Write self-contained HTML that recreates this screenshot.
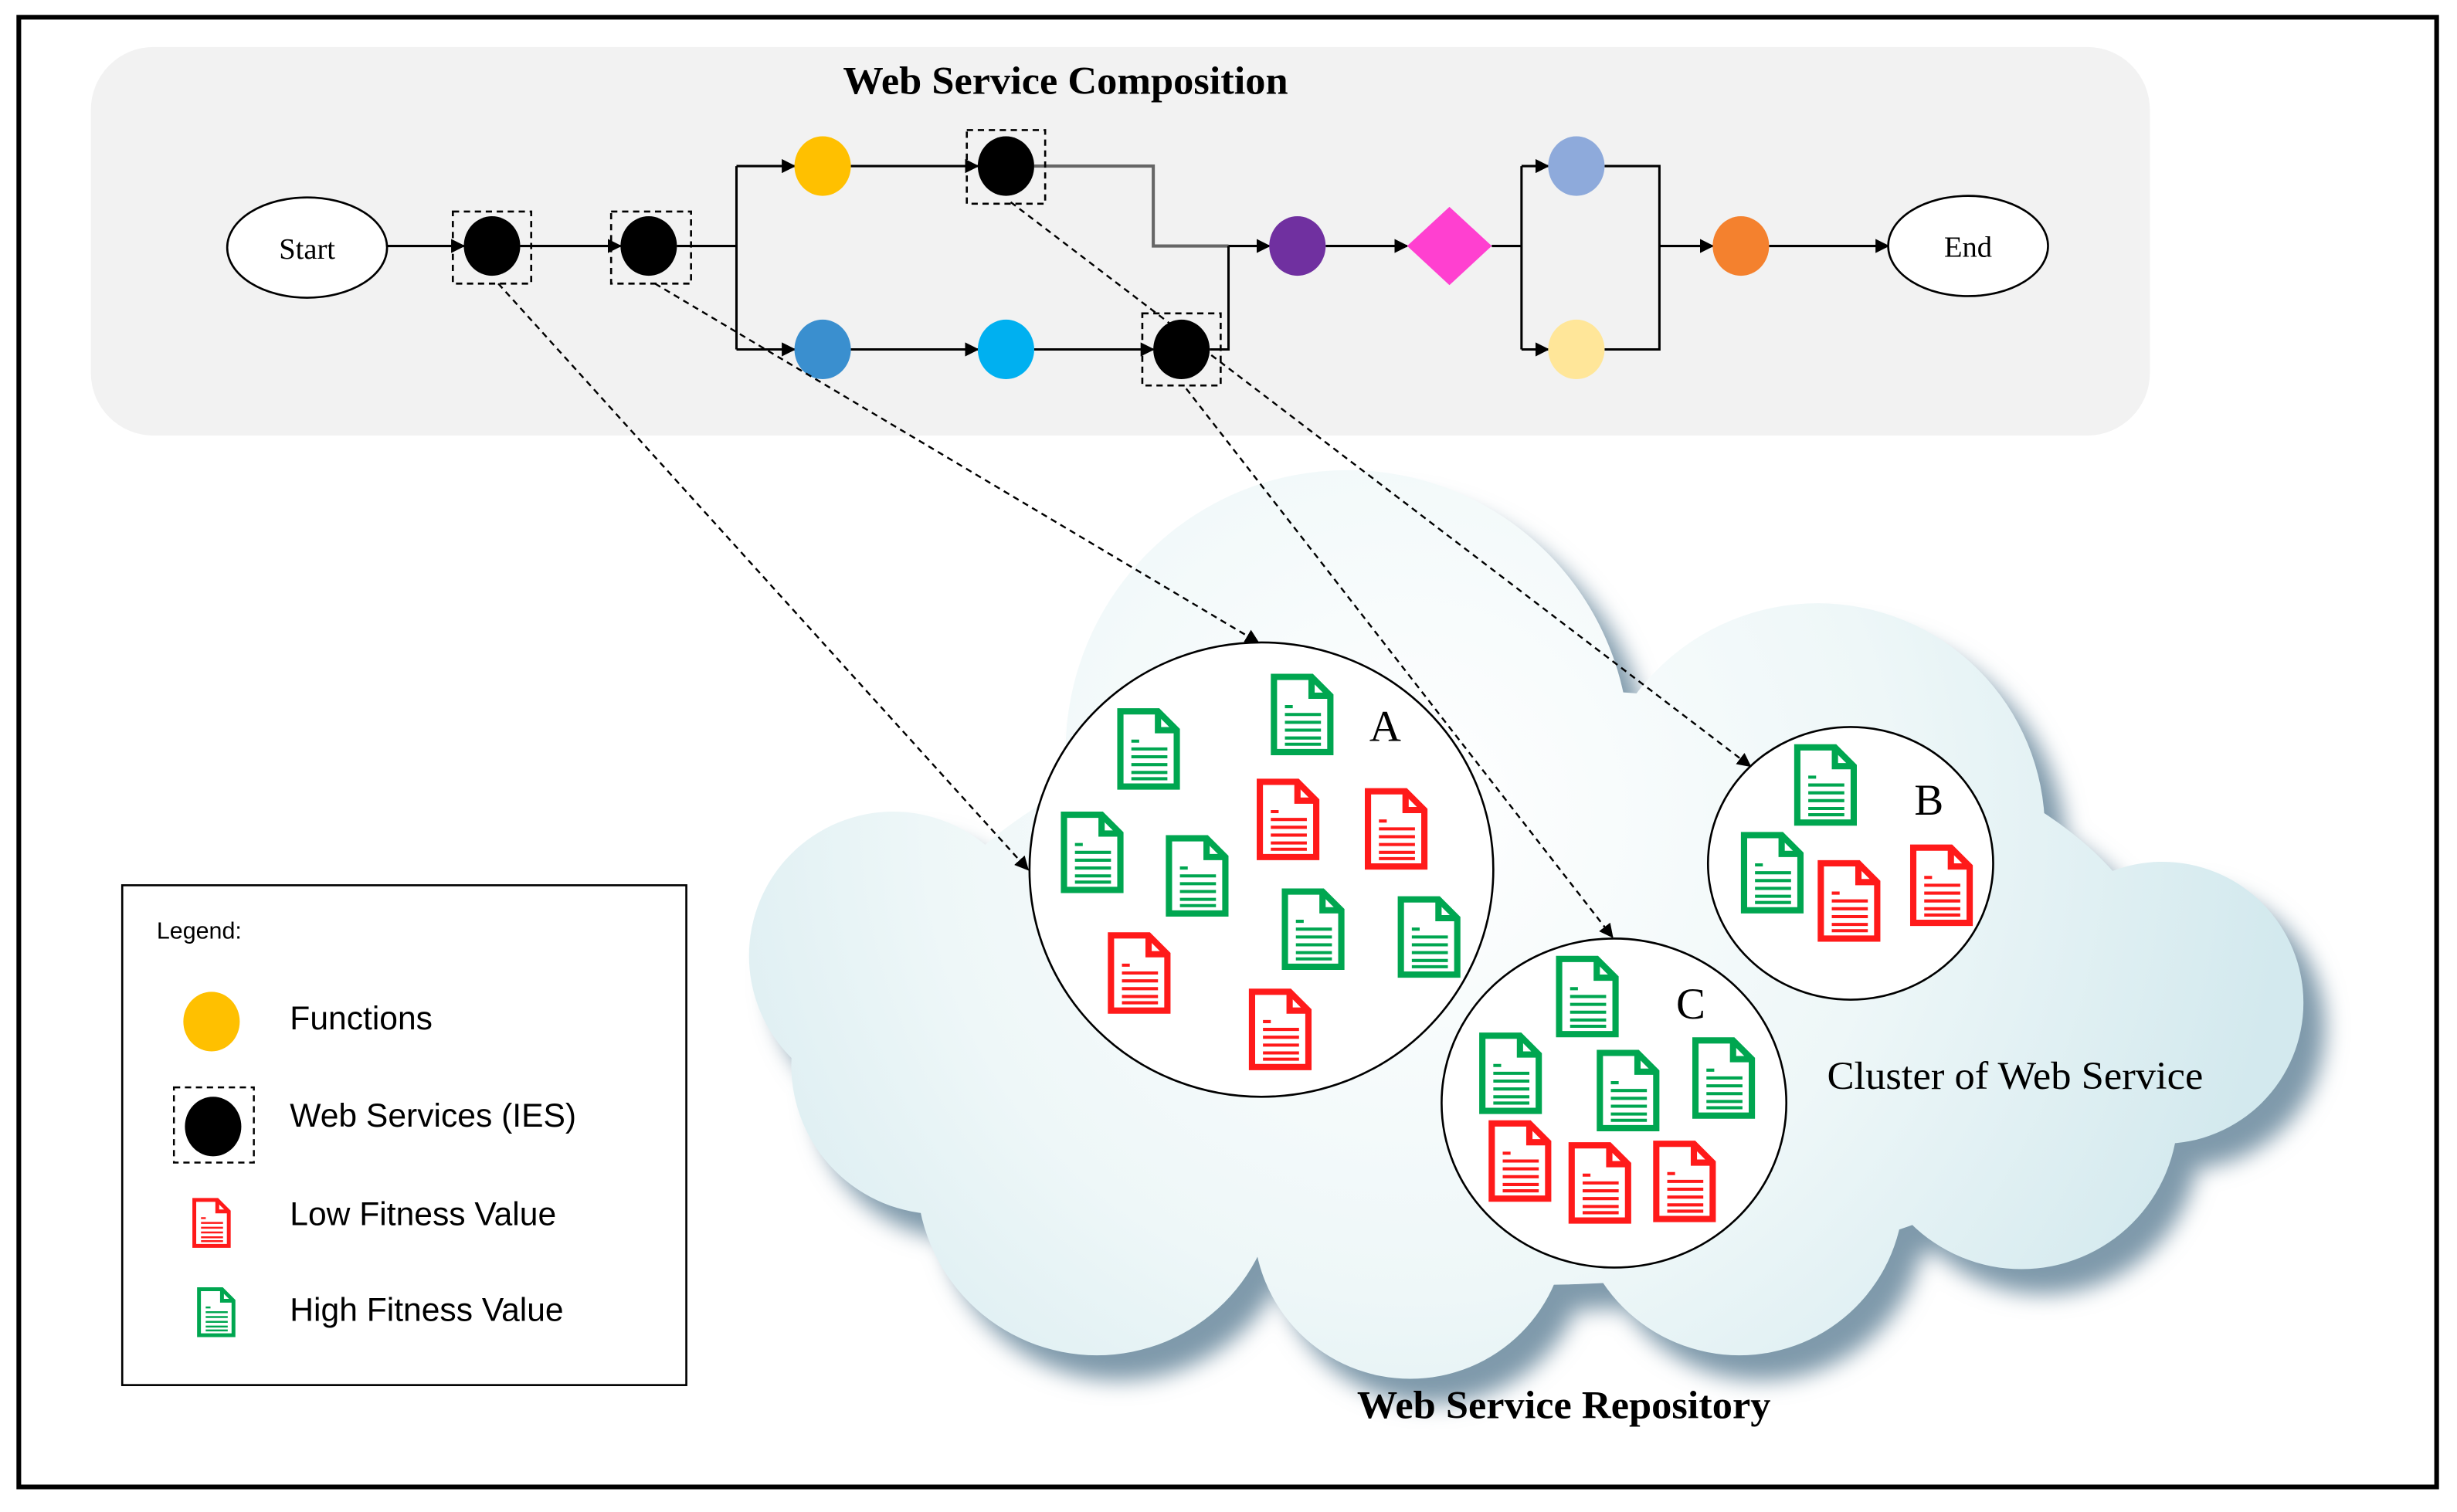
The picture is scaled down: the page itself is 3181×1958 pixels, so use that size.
<!DOCTYPE html>
<html><head><meta charset="utf-8"><style>
html,body{margin:0;padding:0;background:#fff}
svg{display:block}
.s{font-family:"Liberation Serif",serif}
.a{font-family:"Liberation Sans",sans-serif}
</style></head><body>
<svg width="3181" height="1958" viewBox="0 0 1568 965" preserveAspectRatio="none" xmlns="http://www.w3.org/2000/svg">
<defs>
<marker id="ar" viewBox="0 0 10 10" refX="9" refY="5" markerWidth="9" markerHeight="9" orient="auto" markerUnits="userSpaceOnUse"><path d="M0,0L10,5L0,10z" fill="#000"/></marker>
<radialGradient id="cg" gradientUnits="userSpaceOnUse" cx="900" cy="520" r="560"><stop offset="0" stop-color="#ffffff"/><stop offset="0.55" stop-color="#eef7f8"/><stop offset="1" stop-color="#d3e9ee"/></radialGradient>
<filter id="bl" x="-10%" y="-10%" width="120%" height="120%"><feGaussianBlur stdDeviation="7"/></filter>
<symbol id="doc" viewBox="0 0 42 54">
<path d="M3,3H27L39,15V51H3Z" fill="#fff" stroke="currentColor" stroke-width="4"/>
<path d="M27,3V15H39" fill="none" stroke="currentColor" stroke-width="4"/>
<g stroke="currentColor" stroke-width="2">
<line x1="10" y1="22" x2="15" y2="22"/><line x1="10" y1="27" x2="33" y2="27"/><line x1="10" y1="32" x2="33" y2="32"/><line x1="10" y1="37" x2="33" y2="37"/><line x1="10" y1="42" x2="33" y2="42"/><line x1="10" y1="46" x2="33" y2="46"/></g>
</symbol>
<g id="cloud">
<circle cx="570" cy="610" r="92"/><circle cx="860" cy="480" r="180"/><circle cx="1160" cy="530" r="145"/>
<circle cx="1380" cy="640" r="90"/><circle cx="1290" cy="710" r="100"/><circle cx="1110" cy="760" r="105"/>
<circle cx="900" cy="780" r="100"/><circle cx="700" cy="750" r="115"/><circle cx="600" cy="680" r="95"/>
<ellipse cx="980" cy="630" rx="400" ry="190"/>
</g>
</defs>
<rect x="0" y="0" width="1568" height="965" fill="#fff"/>
<rect x="12" y="11" width="1543" height="938" fill="none" stroke="#000" stroke-width="3"/>
<rect x="58" y="30" width="1314" height="248" rx="40" fill="#f2f2f2"/>
<text x="680" y="60" text-anchor="middle" class="s" font-size="25" font-weight="bold" textLength="284" lengthAdjust="spacingAndGlyphs">Web Service Composition</text>

<!-- cloud -->
<use href="#cloud" fill="#7f9aab" transform="translate(14,16)" filter="url(#bl)"/>
<use href="#cloud" fill="url(#cg)"/>

<!-- flow -->
<g stroke="#000" stroke-width="1.5" fill="none">
<line x1="247" y1="157" x2="296" y2="157" marker-end="url(#ar)"/>
<line x1="332" y1="157" x2="396" y2="157" marker-end="url(#ar)"/>
<polyline points="432,157 470,157"/>
<polyline points="470,106 470,223"/>
<line x1="470" y1="106" x2="507" y2="106" marker-end="url(#ar)"/>
<line x1="470" y1="223" x2="507" y2="223" marker-end="url(#ar)"/>
<line x1="543" y1="106" x2="624" y2="106" marker-end="url(#ar)"/>
<line x1="543" y1="223" x2="624" y2="223" marker-end="url(#ar)"/>
<line x1="660" y1="223" x2="736" y2="223" marker-end="url(#ar)"/>
<polyline points="660,106 736,106 736,157 784,157" stroke="#666" stroke-width="2"/>
<polyline points="772,223 784,223 784,157"/>
<line x1="784" y1="157" x2="810" y2="157" marker-end="url(#ar)"/>
<line x1="846" y1="157" x2="898" y2="157" marker-end="url(#ar)"/>
<line x1="952" y1="157" x2="971" y2="157"/>
<polyline points="971,106 971,223"/>
<line x1="971" y1="106" x2="988" y2="106" marker-end="url(#ar)"/>
<line x1="971" y1="223" x2="988" y2="223" marker-end="url(#ar)"/>
<polyline points="1024,106 1059,106 1059,223 1024,223"/>
<line x1="1059" y1="157" x2="1093" y2="157" marker-end="url(#ar)"/>
<line x1="1129" y1="157" x2="1205" y2="157" marker-end="url(#ar)"/>
</g>
<ellipse cx="196" cy="158" rx="51" ry="32" fill="#fff" stroke="#000" stroke-width="1.3"/>
<text x="196" y="165" text-anchor="middle" class="s" font-size="19">Start</text>
<ellipse cx="1256" cy="157" rx="51" ry="32" fill="#fff" stroke="#000" stroke-width="1.3"/>
<text x="1256" y="164" text-anchor="middle" class="s" font-size="19">End</text>
<g fill="none" stroke="#000" stroke-width="1.3" stroke-dasharray="4,3">
<rect x="289" y="135" width="50" height="46"/><rect x="390" y="135" width="51" height="46"/>
<rect x="617" y="83" width="50" height="47"/><rect x="729" y="200" width="50" height="46"/>
</g>
<ellipse cx="314" cy="157" rx="18" ry="19"/><ellipse cx="414" cy="157" rx="18" ry="19"/>
<ellipse cx="642" cy="106" rx="18" ry="19"/><ellipse cx="754" cy="223" rx="18" ry="19"/>
<ellipse cx="525" cy="106" rx="18" ry="19" fill="#ffc000"/>
<ellipse cx="525" cy="223" rx="18" ry="19" fill="#3a8fcf"/>
<ellipse cx="642" cy="223" rx="18" ry="19" fill="#00b0f0"/>
<ellipse cx="828" cy="157" rx="18" ry="19" fill="#7030a0"/>
<path d="M925,132L952,157L925,182L898,157Z" fill="#ff40d0"/>
<ellipse cx="1006" cy="106" rx="18" ry="19" fill="#8eaadb"/>
<ellipse cx="1006" cy="223" rx="18" ry="19" fill="#ffe699"/>
<ellipse cx="1111" cy="157" rx="18" ry="19" fill="#f4812e"/>

<!-- clusters -->
<ellipse cx="805" cy="555" rx="148" ry="145" fill="#fff" stroke="#000" stroke-width="1.3"/>
<ellipse cx="1181" cy="551" rx="91" ry="87" fill="#fff" stroke="#000" stroke-width="1.3"/>
<ellipse cx="1030" cy="704" rx="110" ry="105" fill="#fff" stroke="#000" stroke-width="1.3"/>

<!-- dashed arrows -->
<g stroke="#000" stroke-width="1.2" fill="none" stroke-dasharray="4,3">
<line x1="318" y1="181" x2="656" y2="555" marker-end="url(#ar)"/>
<line x1="418" y1="181" x2="803" y2="410" marker-end="url(#ar)"/>
<line x1="645" y1="129" x2="1117" y2="489" marker-end="url(#ar)"/>
<line x1="757" y1="248" x2="1029" y2="598" marker-end="url(#ar)"/>
</g>

<text x="884" y="473" text-anchor="middle" class="s" font-size="28">A</text>
<text x="1231" y="520" text-anchor="middle" class="s" font-size="28">B</text>
<text x="1079" y="650" text-anchor="middle" class="s" font-size="28">C</text>
<text x="1286" y="695" text-anchor="middle" class="s" font-size="25" textLength="240" lengthAdjust="spacingAndGlyphs">Cluster of Web Service</text>
<text x="998" y="905" text-anchor="middle" class="s" font-size="25" font-weight="bold" textLength="264" lengthAdjust="spacingAndGlyphs">Web Service Repository</text>

<!-- legend -->
<rect x="78" y="565" width="360" height="319" fill="#fff" stroke="#000" stroke-width="1.3"/>
<text x="100" y="599" class="a" font-size="15">Legend:</text>
<ellipse cx="135" cy="652" rx="18" ry="19" fill="#ffc000"/>
<rect x="111" y="694" width="51" height="48" fill="none" stroke="#000" stroke-width="1.2" stroke-dasharray="4,3"/>
<ellipse cx="136" cy="719" rx="18" ry="19" fill="#000"/>
<text x="185" y="657" class="a" font-size="21">Functions</text>
<text x="185" y="719" class="a" font-size="21">Web Services (IES)</text>
<text x="185" y="782" class="a" font-size="21">Low Fitness Value</text>
<text x="185" y="843" class="a" font-size="21">High Fitness Value</text>

<!-- docs -->
<g fill="none">
<g color="#00a650">
<use href="#doc" x="712" y="451" width="42" height="54"/>
<use href="#doc" x="810" y="429" width="42" height="54"/>
<use href="#doc" x="676" y="517" width="42" height="54"/>
<use href="#doc" x="743" y="532" width="42" height="54"/>
<use href="#doc" x="817" y="566" width="42" height="54"/>
<use href="#doc" x="891" y="571" width="42" height="54"/>
<use href="#doc" x="1144" y="474" width="42" height="54"/>
<use href="#doc" x="1110" y="530" width="42" height="54"/>
<use href="#doc" x="992" y="609" width="42" height="54"/>
<use href="#doc" x="943" y="658" width="42" height="54"/>
<use href="#doc" x="1018" y="669" width="42" height="54"/>
<use href="#doc" x="1079" y="661" width="42" height="54"/>
<use href="#doc" x="125" y="821" width="26" height="33"/>
</g>
<g color="#ff1a1a">
<use href="#doc" x="801" y="496" width="42" height="54"/>
<use href="#doc" x="870" y="502" width="42" height="54"/>
<use href="#doc" x="706" y="594" width="42" height="54"/>
<use href="#doc" x="796" y="630" width="42" height="54"/>
<use href="#doc" x="1159" y="548" width="42" height="54"/>
<use href="#doc" x="1218" y="538" width="42" height="54"/>
<use href="#doc" x="949" y="714" width="42" height="54"/>
<use href="#doc" x="1000" y="728" width="42" height="54"/>
<use href="#doc" x="1054" y="727" width="42" height="54"/>
<use href="#doc" x="122" y="764" width="26" height="33"/>
</g>
</g>
</svg>
</body></html>
